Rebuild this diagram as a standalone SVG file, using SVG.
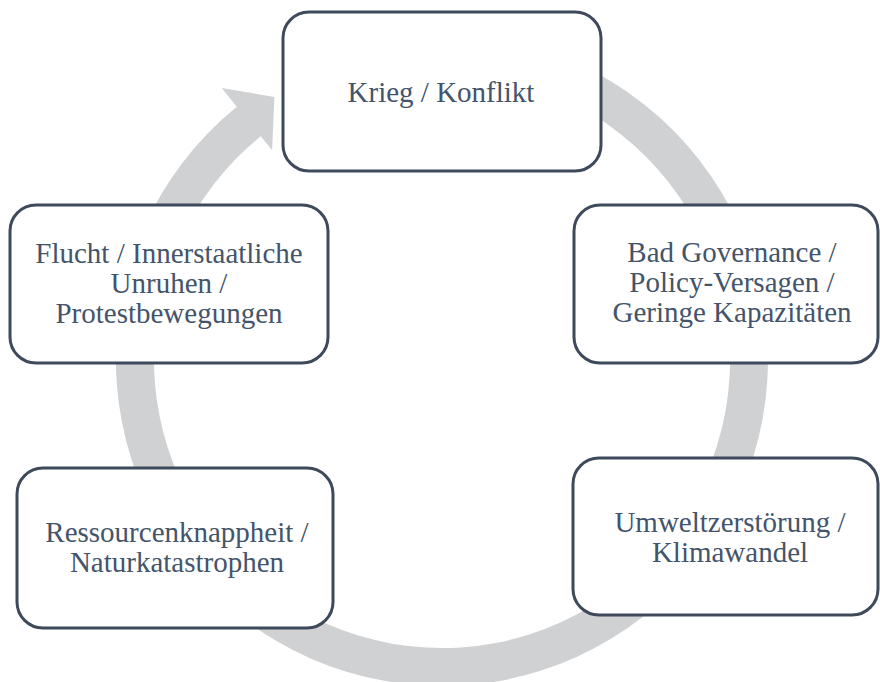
<svg xmlns="http://www.w3.org/2000/svg" width="880" height="682" viewBox="0 0 880 682">
<style>
.box{fill:#ffffff;stroke:#3e4a5c;stroke-width:3}
.lbl{font-family:'Liberation Serif','Times New Roman',serif;font-size:29px;fill:#44546a;text-anchor:middle}
.ring{fill:#d0d1d3}
</style>
<rect width="880" height="682" fill="#ffffff"/>
<g id="connectors">
<path class="ring" d="M385.4,39.0 A326,326 0 1 1 236.8,106.7 L221.7,88.0 L274.4,96.9 L272.1,150.2 L260.8,136.2 A288,288 0 1 0 392.0,76.4 Z"/>
</g>
<g id="krieg">
<rect class="box" x="283" y="12" width="318" height="159" rx="26"/>
<text class="lbl" x="441" y="102">Krieg / Konflikt</text>
</g>
<g id="governance">
<rect class="box" x="574" y="205" width="304" height="158" rx="26"/>
<text class="lbl" x="732" y="262">Bad Governance /</text>
<text class="lbl" x="732" y="292">Policy-Versagen /</text>
<text class="lbl" x="732" y="322">Geringe Kapazitäten</text>
</g>
<g id="umwelt">
<rect class="box" x="573" y="458" width="305" height="157" rx="26"/>
<text class="lbl" x="730" y="532">Umweltzerstörung /</text>
<text class="lbl" x="730" y="562">Klimawandel</text>
</g>
<g id="ressourcen">
<rect class="box" x="17" y="468" width="316" height="160" rx="26"/>
<text class="lbl" x="177" y="542">Ressourcenknappheit /</text>
<text class="lbl" x="177" y="572">Naturkatastrophen</text>
</g>
<g id="flucht">
<rect class="box" x="10" y="205" width="318" height="158" rx="26"/>
<text class="lbl" x="169" y="263">Flucht / Innerstaatliche</text>
<text class="lbl" x="169" y="293">Unruhen /</text>
<text class="lbl" x="169" y="323">Protestbewegungen</text>
</g>
</svg>
